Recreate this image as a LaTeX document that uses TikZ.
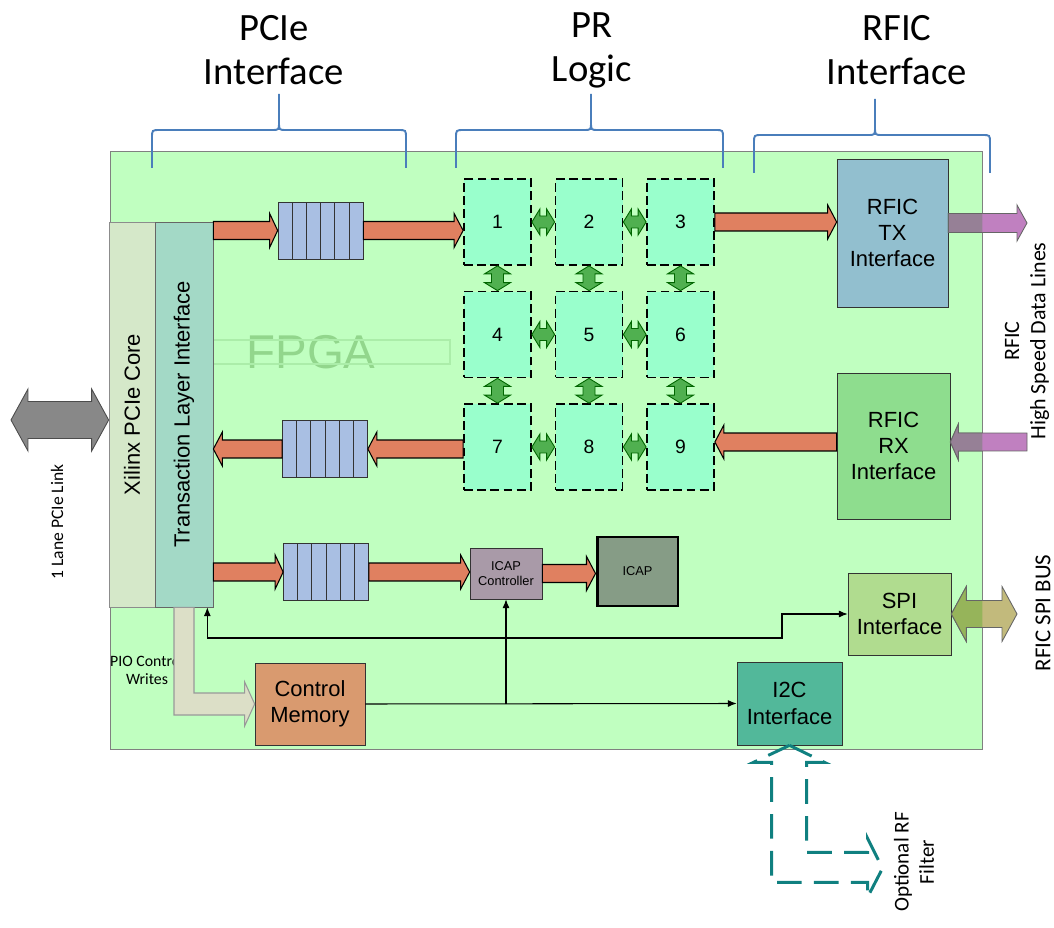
\documentclass[tikz,border=0pt]{standalone}
\usepackage{fontspec}
\setmainfont{Liberation Sans}
\newfontfamily\calibri{Carlito}
\usepackage{graphicx}
\usetikzlibrary{arrows.meta,calc}

\definecolor{fpgagreen}{RGB}{192,255,192}
\definecolor{fpgaword}{RGB}{146,214,140}
\definecolor{coregray}{RGB}{213,232,201}
\definecolor{tlteal}{RGB}{163,217,198}
\definecolor{queueblue}{RGB}{169,191,227}
\definecolor{prmint}{RGB}{153,255,204}
\definecolor{linkgreen}{RGB}{80,176,80}
\definecolor{dataorange}{RGB}{224,128,96}
\definecolor{txblue}{RGB}{146,191,207}
\definecolor{rxgreen}{RGB}{142,221,142}
\definecolor{spigreen}{RGB}{176,220,143}
\definecolor{ictteal}{RGB}{82,184,154}
\definecolor{memtan}{RGB}{217,154,111}
\definecolor{icapmauve}{RGB}{169,154,168}
\definecolor{icapgray}{RGB}{134,156,134}
\definecolor{braceblue}{RGB}{74,126,187}
\definecolor{hsmauve}{RGB}{192,128,192}
\definecolor{hsmauvein}{RGB}{150,128,150}
\definecolor{busolive}{RGB}{194,186,124}
\definecolor{busolivein}{RGB}{150,180,90}
\definecolor{pciegray}{RGB}{136,136,136}
\definecolor{piobeige}{RGB}{220,223,199}
\definecolor{filterteal}{RGB}{16,128,128}

% block arrows: style, tail, tip, half shaft, half head, head length (px)
\newcommand{\blockarrow}[6]{%
  \path[#1] let \p1=#2, \p2=#3,
    \n1={veclen(\x2-\x1,\y2-\y1)}, \n2={(\x2-\x1)/\n1}, \n3={(\y2-\y1)/\n1},
    \n4={#4*0.569}, \n5={#5*0.569}, \n6={\n1-#6*0.569} in
    ({\x1-\n4*\n3},{\y1+\n4*\n2})
    -- ({\x1+\n6*\n2-\n4*\n3},{\y1+\n6*\n3+\n4*\n2})
    -- ({\x1+\n6*\n2-\n5*\n3},{\y1+\n6*\n3+\n5*\n2})
    -- (\p2)
    -- ({\x1+\n6*\n2+\n5*\n3},{\y1+\n6*\n3-\n5*\n2})
    -- ({\x1+\n6*\n2+\n4*\n3},{\y1+\n6*\n3-\n4*\n2})
    -- ({\x1+\n4*\n3},{\y1-\n4*\n2}) -- cycle}
\newcommand{\dblarrow}[6]{%
  \path[#1] let \p1=#2, \p2=#3,
    \n1={veclen(\x2-\x1,\y2-\y1)}, \n2={(\x2-\x1)/\n1}, \n3={(\y2-\y1)/\n1},
    \n4={#4*0.569}, \n5={#5*0.569}, \n6={\n1-#6*0.569}, \n7={#6*0.569} in
    (\p1)
    -- ({\x1+\n7*\n2-\n5*\n3},{\y1+\n7*\n3+\n5*\n2})
    -- ({\x1+\n7*\n2-\n4*\n3},{\y1+\n7*\n3+\n4*\n2})
    -- ({\x1+\n6*\n2-\n4*\n3},{\y1+\n6*\n3+\n4*\n2})
    -- ({\x1+\n6*\n2-\n5*\n3},{\y1+\n6*\n3+\n5*\n2})
    -- (\p2)
    -- ({\x1+\n6*\n2+\n5*\n3},{\y1+\n6*\n3-\n5*\n2})
    -- ({\x1+\n6*\n2+\n4*\n3},{\y1+\n6*\n3-\n4*\n2})
    -- ({\x1+\n7*\n2+\n4*\n3},{\y1+\n7*\n3-\n4*\n2})
    -- ({\x1+\n7*\n2+\n5*\n3},{\y1+\n7*\n3-\n5*\n2})
    -- cycle}

\begin{document}
\begin{tikzpicture}[x=0.02cm, y=-0.02cm,
    box/.style={draw=black!80, inner sep=0pt, align=center,
                font=\fontsize{12.5}{15}\selectfont},
    prbox/.style={draw, dash pattern=on 5pt off 2.5pt, line width=1pt, fill=prmint,
                  minimum width=1.34cm, minimum height=1.72cm, inner sep=0pt,
                  font=\fontsize{11}{13}\selectfont},
    queue/.style={draw=black!80, fill=queueblue, minimum width=1.7cm,
                  minimum height=1.14cm, inner sep=0pt},
    heading/.style={align=center, font=\calibri\fontsize{22}{25}\selectfont},
    sidelabel/.style={rotate=90, align=center, font=\calibri\fontsize{12.5}{15}\selectfont},
    dataarr/.style={fill=dataorange, draw=black, line width=0.6pt},
    linkarr/.style={fill=linkgreen, draw=black!60!green, line width=0.5pt},
    hsarr/.style={fill=hsmauve, draw=black!60, line width=0.5pt},
    busarr/.style={fill=busolive, draw=black!60, line width=0.5pt},
    pciearr/.style={fill=pciegray, draw=black!70, line width=0.5pt},
    pioarr/.style={fill=piobeige, draw=black!40, line width=0.6pt},
    thinarr/.style={draw, line width=0.6pt, -{Latex[length=5pt,width=4pt]}},
    bracestyle/.style={draw=braceblue, line width=1.1pt},
    filterline/.style={draw=filterteal, line width=1.7pt, dash pattern=on 14pt off 7pt}
  ]
  \useasboundingbox (0,0) rectangle (1054,928);

  % FPGA area
  \node[draw=black!50, fill=fpgagreen, minimum width=17.44cm, minimum height=11.96cm,
        inner sep=0pt] (fpga) at (546,450) {};
  \node[font=\fontsize{27}{30}\selectfont, text=fpgaword] (fpgalbl) at (311,352) {FPGA};
  \draw[fpgaword!45!fpgagreen, line width=0.6pt] (170,340) rectangle (450,364);

  % section headings
  \node[heading] (pciehead) at (274,50) {PCIe\\Interface};
  \node[heading] (prhead) at (592,50) {PR\\Logic};
  \node[heading] (rfichead) at (897,50) {RFIC\\Interface};
  \foreach \xa/\xm/\xb/\yb in {152/279/406/130, 456/591/723/130, 754/875/990/135}
    \draw[bracestyle] (\xa,{\yb+38}) -- (\xa,{\yb+8}) .. controls (\xa,\yb) .. ({\xa+8},\yb)
      -- ({\xm-7},\yb) .. controls (\xm,\yb) .. (\xm,{\yb-8}) -- (\xm,{\yb-36})
      (\xm,{\yb-8}) .. controls (\xm,\yb) .. ({\xm+7},\yb)
      -- ({\xb-8},\yb) .. controls (\xb,\yb) .. (\xb,{\yb+8}) -- (\xb,{\yb+38});

  % PCIe side
  \node[box, draw=black!45, fill=coregray, minimum width=0.92cm, minimum height=7.7cm]
    (core) at (132,414.5) {\rotatebox{90}{Xilinx PCIe Core}};
  \node[box, draw=black!60, fill=tlteal, minimum width=1.16cm, minimum height=7.7cm]
    (tli) at (184,414.5) {\rotatebox{90}{Transaction Layer Interface}};
  \coordinate (pcielink) at (11,420);
  \dblarrow{pciearr}{(pcielink)}{(pcielink -| core.west)}{18.5}{31}{17};

  \node[font=\calibri\fontsize{9}{10}\selectfont, align=center] (piolbl) at (147,670)
    {PIO Control\\Writes};
  \node[box, fill=memtan, minimum width=2.2cm, minimum height=1.64cm] (cmem) at (310,704)
    {Control\\Memory};
  \path[pioarr] ($(tli.south)+(-10,0)$) |- ($(cmem.west)+(-10,11)$) -- ++(0,11)
    -- (cmem.west) -- ++(-10,-22) -- ++(0,11) -| ($(tli.south)+(10,0)$) -- cycle;

  % FIFOs
  \node[queue] (q1) at (320.5,230.5) {};
  \node[queue] (q2) at (325,449) {};
  \node[queue] (q3) at (326,572) {};
  \foreach \q in {q1,q2,q3}
    \foreach \i in {1,...,5}
      \draw[black!80] ($(\q.south west)!{\i/6}!(\q.south east)$)
        -- ($(\q.north west)!{\i/6}!(\q.north east)$);

  % PR regions
  \foreach \k in {1,...,9}{
    \pgfmathtruncatemacro{\prcol}{mod(\k-1,3)}
    \pgfmathtruncatemacro{\prrow}{(\k-1)/3}
    \node[prbox] (pr\k) at ({497.5+91.5*\prcol},{222+112.5*\prrow}) {\k};
  }
  \foreach \a/\b in {1/2,2/3,4/5,5/6,7/8,8/9}
    {\dblarrow{linkarr}{(pr\a.east)}{(pr\b.west)}{6}{13}{8};}
  \foreach \a/\b in {1/4,2/5,3/6,4/7,5/8,6/9}
    {\dblarrow{linkarr}{(pr\a.south)}{(pr\b.north)}{6}{13}{8};}

  % RFIC side
  \node[box, fill=txblue, minimum width=2.22cm, minimum height=2.96cm] (rftx) at (892.5,233)
    {RFIC\\TX\\Interface};
  \node[box, fill=rxgreen, minimum width=2.26cm, minimum height=2.92cm] (rfrx) at (893.5,446)
    {RFIC\\RX\\Interface};
  \node[box, fill=spigreen, minimum width=2.06cm, minimum height=1.64cm] (spi) at (899.5,614)
    {SPI\\Interface};
  \node[box, fill=ictteal, minimum width=2.1cm, minimum height=1.66cm] (i2c) at (789.5,703.5)
    {I2C\\Interface};

  % ICAP
  \node[box, fill=icapmauve, minimum width=1.44cm, minimum height=1.02cm,
        font=\fontsize{7.3}{9}\selectfont] (icapc) at (506,573.5) {ICAP\\Controller};
  \node[box, draw=black, line width=1.7pt, fill=icapgray, minimum width=1.62cm,
        minimum height=1.38cm, font=\fontsize{7.3}{9}\selectfont] (icap) at (637.5,571.5) {ICAP};

  % data path
  \coordinate (rxin) at (1027,442);
  \coordinate (txout) at (1027,223);
  \coordinate (spibus) at (1017,614);
  \blockarrow{dataarr}{(tli.east |- q1.west)}{(q1.west)}{9}{17}{8};
  \blockarrow{dataarr}{(q1.east)}{(q1.east -| pr1.west)}{9}{17}{9};
  \blockarrow{dataarr}{(pr3.east)}{(pr3.east -| rftx.west)}{9}{17}{9};
  \blockarrow{dataarr}{(rfrx.west |- rxin)}{(pr9.east |- rxin)}{9}{17}{9};
  \blockarrow{dataarr}{(pr7.west |- q2.east)}{(q2.east)}{9}{17}{9};
  \blockarrow{dataarr}{(q2.west)}{(q2.west -| tli.east)}{9}{17}{9};
  \blockarrow{dataarr}{(tli.east |- q3.west)}{(q3.west)}{9}{17}{8};
  \blockarrow{dataarr}{(q3.east)}{(q3.east -| icapc.west)}{9}{17}{9};
  \blockarrow{dataarr}{(icapc.east)}{(icapc.east -| icap.west)}{9}{17}{9};

  \blockarrow{hsarr}{(rftx.east |- txout)}{(txout)}{9.5}{18}{10};
  \blockarrow{hsarr}{(rxin)}{(rxin -| rfrx.east)}{9}{18}{8};
  \dblarrow{busarr}{(spi.east)}{(spibus)}{13.5}{27.5}{15};
  \begin{scope}
    \clip (fpga.north west) rectangle (fpga.south east);
    \blockarrow{hsarr, fill=hsmauvein}{(rftx.east |- txout)}{(txout)}{9.5}{18}{10};
    \blockarrow{hsarr, fill=hsmauvein}{(rxin)}{(rxin -| rfrx.east)}{9}{18}{8};
    \dblarrow{busarr, fill=busolivein}{(spi.east)}{(spibus)}{13.5}{27.5}{15};
  \end{scope}

  % control lines
  \coordinate (spiturn) at (782,638);
  \draw[thinarr] (cmem.east) -- (i2c.west);
  \draw[thinarr] (icapc.south |- cmem.east) -- (icapc.south);
  \draw[thinarr, {Latex[length=5pt,width=4pt]}-{Latex[length=5pt,width=4pt]}]
    ($(tli.south east)+(-6,0)$) |- (spiturn) |- (spi.west);

  % optional RF filter link
  \draw[filterline] (i2c.south) -- ++(35,17) -- ++(-18,0) -- ++(0,90) -- ++(61,0)
    -- ++(0,-14) -- ++(15,30) -- ++(-15,29) -- ++(0,-15) -- ++(-96,0) -- ++(0,-120)
    -- ++(-18,0) -- cycle;

  % outside labels
  \node[sidelabel, font=\calibri\fontsize{10}{12}\selectfont] (linklbl) at (57,522)
    {1 Lane PCIe Link};
  \node[sidelabel] (hslbl) at (1027,341) {RFIC\\High Speed Data Lines};
  \node[sidelabel, font=\calibri\fontsize{13}{15}\selectfont] (spilbl) at (1043,613)
    {RFIC SPI BUS};
  \node[sidelabel, font=\calibri\fontsize{12}{14.5}\selectfont] (filterlbl) at (914,862)
    {Optional RF\\Filter};
\end{tikzpicture}
\end{document}
